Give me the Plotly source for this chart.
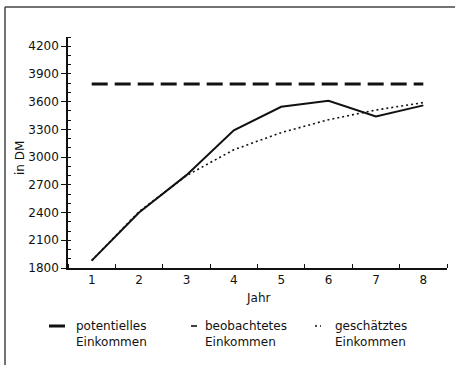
import plotly.graph_objects as go

# Einkommensverlauf über die Jahre (DM)
jahre = [1, 2, 3, 4, 5, 6, 7, 8]
potentiell = [3790, 3790, 3790, 3790, 3790, 3790, 3790, 3790]
beobachtet = [1880, 2400, 2805, 3290, 3545, 3610, 3440, 3560]
geschaetzt = [1880, 2410, 2800, 3080, 3265, 3405, 3510, 3590]

y_ticks = [1800, 2100, 2400, 2700, 3000, 3300, 3600, 3900, 4200]
x_ticks = jahre

namen = ["potentielles<br>Einkommen", "beobachtetes<br>Einkommen", "geschätztes<br>Einkommen"]

FONT = "DejaVu Sans"
INK = "#111111"

fig = go.Figure()
fig.add_trace(go.Scatter(x=jahre, y=potentiell, mode="lines", name=namen[0],
                         line=dict(color=INK, width=3, dash="16px,7px")))
fig.add_trace(go.Scatter(x=jahre, y=beobachtet, mode="lines", name=namen[1],
                         line=dict(color=INK, width=2)))
fig.add_trace(go.Scatter(x=jahre, y=geschaetzt, mode="lines", name=namen[2],
                         line=dict(color=INK, width=1.6, dash="2px,3px")))
# invisible trace carrying the second y axis (inner half of major ticks)
fig.add_trace(go.Scatter(x=[jahre[0]], y=[y_ticks[0]], yaxis="y2", mode="markers",
                         marker=dict(opacity=0), hoverinfo="skip", showlegend=False))

fig.update_layout(
    width=455, height=365,
    margin=dict(l=68, r=8, t=37, b=97),
    paper_bgcolor="white", plot_bgcolor="white",
    showlegend=False,
    font=dict(family=FONT, size=12, color=INK),
    xaxis=dict(range=[0.5, 8.5], tickvals=x_ticks, ticktext=[str(v) for v in x_ticks],
               ticks="", showgrid=False, zeroline=False,
               showline=True, linecolor=INK, linewidth=1.5,
               minor=dict(tick0=1.5, dtick=1, ticks="inside", ticklen=4,
                          tickcolor=INK, tickwidth=1.2, showgrid=False),
               tickfont=dict(size=12)),
    yaxis=dict(range=[1800, 4300], tickvals=y_ticks, ticks="outside", ticklen=5,
               tickcolor=INK, tickwidth=1.2, showgrid=False, zeroline=False,
               showline=True, linecolor=INK, linewidth=1.5,
               minor=dict(dtick=100, tick0=1800, ticks="inside", ticklen=3,
                          tickcolor=INK, tickwidth=1, showgrid=False),
               tickfont=dict(size=12)),
    yaxis2=dict(range=[1800, 4300], overlaying="y", side="left", anchor="x",
                tickvals=y_ticks, ticks="inside", ticklen=3, tickcolor=INK,
                tickwidth=1.2, showticklabels=False, showgrid=False,
                zeroline=False, showline=False),
)

def px_x(p):
    return (p - 68) / 379

def px_y(p):
    return (268 - p) / 231

annots = [
    dict(text="Jahr", x=0.5, y=px_y(298), xanchor="center", yanchor="middle"),
    dict(text="in DM", x=px_x(20), y=px_y(158), textangle=-90,
         xanchor="center", yanchor="middle"),
]
for name, tx in zip(namen, [74, 203, 333]):
    annots.append(dict(text=name, x=px_x(tx), y=px_y(333.5), xanchor="left",
                       yanchor="middle", align="left"))
for a in annots:
    fig.add_annotation(xref="paper", yref="paper", showarrow=False,
                       font=dict(family=FONT, size=12, color=INK), **a)

# legend keys
keys = [((49, 65), 3, "solid"), ((191, 197), 1.6, "solid"), ((315, 321), 1.6, "2px,3px")]
for (x0, x1), w, d in keys:
    fig.add_shape(type="line", xref="paper", yref="paper",
                  x0=px_x(x0), x1=px_x(x1), y0=px_y(326), y1=px_y(326),
                  line=dict(color=INK, width=w, dash=d))

# outer frame (left and top edges)
fig.add_shape(type="line", xref="paper", yref="paper",
              x0=px_x(5), x1=px_x(5), y0=px_y(7), y1=px_y(366),
              line=dict(color="#444444", width=1.5))
fig.add_shape(type="line", xref="paper", yref="paper",
              x0=px_x(5), x1=px_x(456), y0=px_y(7), y1=px_y(7),
              line=dict(color="#444444", width=1.5))

fig.write_html("out.html")
